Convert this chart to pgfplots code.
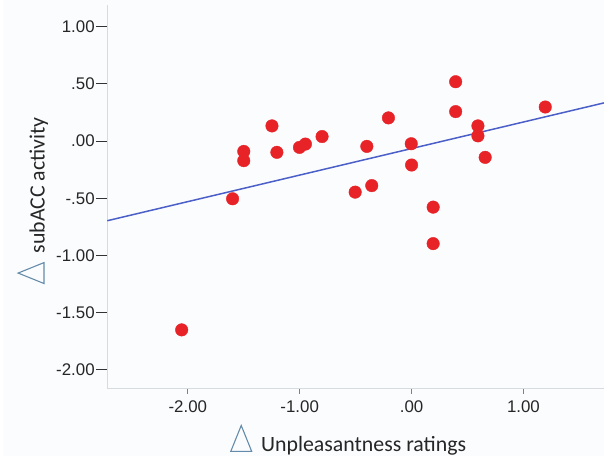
\documentclass[border=0pt]{standalone}
\usepackage{pgfplots}
\pgfplotsset{compat=1.18}
\usepackage{fontspec}
\setmainfont{Liberation Sans}
\newfontfamily\calibri{Carlito}
\definecolor{bg}{RGB}{251,252,254}
\definecolor{ptred}{RGB}{232,35,40}
\definecolor{lineblue}{RGB}{75,95,200}
\definecolor{tri}{RGB}{100,140,170}
\definecolor{spine}{RGB}{215,218,222}
\newsavebox\tribox
\begin{document}
\sbox\tribox{\tikz\draw[tri,line width=1.1bp,line join=miter] (0,0)--(21bp,0)--(10.5bp,26bp)--cycle;}
\begin{tikzpicture}
\fill[bg] (-105bp,-68bp) rectangle (499bp,390bp);
\begin{axis}[
  at={(0,0)}, anchor=south west, scale only axis, width=499bp, height=385bp,
  xmin=-2.72, xmax=1.72, ymin=-2.16, ymax=1.19,
  axis lines=left, axis line style={-,draw=spine,line width=0.8bp},
  xtick={-2,-1,0,1}, xticklabels={-2.00,-1.00,.00,1.00},
  ytick={-2,-1.5,-1,-0.5,0,0.5,1}, yticklabels={-2.00,-1.50,-1.00,-.50,.00,.50,1.00},
  tick align=outside,
  major tick length=11bp,
  xtick style={draw=gray, line width=0.8bp, /pgfplots/major tick length=6bp},
  ytick style={draw=black!80, line width=0.9bp},
  ticklabel style={font=\fontsize{17}{20}\selectfont, text=black!85},
  yticklabel style={inner sep=0pt, xshift=-1.5bp},
  xticklabel style={inner sep=0pt, yshift=-1bp},
  xlabel={\usebox\tribox\hspace{9bp}\calibri Unpleasantness ratings},
  ylabel={\usebox\tribox\hspace{9bp}\calibri subACC activity},
  label style={font=\fontsize{22}{26}\selectfont, text=black!85},
  xlabel style={at={(axis description cs:0.485,-0.1662)}, anchor=base},
  ylabel style={at={(axis description cs:-0.1263,0.4896)}, anchor=base},
  clip=false,
]
\addplot[lineblue, line width=1.5bp] coordinates {(-2.72,-0.696) (1.72,0.334)};
\addplot[only marks, mark=*, mark size=6.3bp, mark options={fill=ptred, draw=ptred}] coordinates {
(-2.055,-1.65) (-1.60,-0.504) (-1.50,-0.09) (-1.50,-0.171) (-1.248,0.133)
(-1.204,-0.098) (-1.002,-0.055) (-0.949,-0.026) (-0.80,0.04) (-0.504,-0.446)
(-0.40,-0.046) (-0.356,-0.389) (-0.207,0.203) (-0.003,-0.023) (0.0,-0.209)
(0.193,-0.577) (0.193,-0.896) (0.394,0.519) (0.394,0.258) (0.593,0.133)
(0.593,0.046) (0.658,-0.142) (1.195,0.298)
};
\end{axis}
\pgfresetboundingbox
\path (-105bp,-68bp) rectangle (499bp,390bp);
\end{tikzpicture}
\end{document}
